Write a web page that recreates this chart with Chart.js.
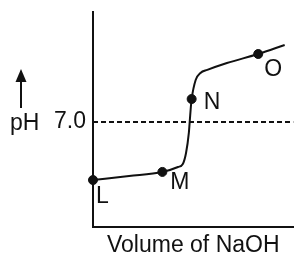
<!DOCTYPE html>
<html>
<head>
<meta charset="utf-8">
<script src="https://cdn.jsdelivr.net/npm/chart.js@4/dist/chart.umd.min.js"></script>
<style>
  html, body { margin: 0; padding: 0; background: #fff; }
  #wrap { width: 299px; height: 255px; }
</style>
</head>
<body>
<div id="wrap"><canvas id="chart"></canvas></div>
<script>
// titration curve (volume in arbitrary units)
const volume = [0, 9, 17.3, 21.2, 22.4, 23.2, 23.9, 24.15, 24.4, 24.6, 25.6, 26.8, 28.5, 33.4, 41.2, 47.8];
const ph = [3.13, 3.4, 3.67, 4.0, 4.2, 4.93, 6.27, 7.13, 8.0, 8.53, 9.8, 10.27, 10.47, 10.93, 11.53, 12.13];
const markedIdx = [0, 2, 9, 14];
const markedNames = ["L", "M", "N", "O"];
const neutralPH = 7.0;
const yTickLabels = ["7.0"];
const xTitle = "Volume of NaOH";
const yTitle = "pH";

const FONT = "'Liberation Sans', Arial, sans-serif";
const INK = "#111";
const SIZE = 23;

Chart.defaults.font.family = FONT;
Chart.defaults.color = INK;

// name offsets from each marked point (dx, baseline dy)
const nameOffsets = [[3, 23], [8, 17], [12, 10], [6, 22]];

const labelPlugin = {
  id: "labels",
  afterDatasetsDraw(chart) {
    const ctx = chart.ctx;
    const meta = chart.getDatasetMeta(0);
    const yScale = chart.scales.y;
    ctx.save();
    ctx.fillStyle = INK;
    ctx.font = SIZE + "px " + FONT;
    ctx.textAlign = "left";
    ctx.textBaseline = "alphabetic";
    markedIdx.forEach((idx, i) => {
      const pt = meta.data[idx];
      const [dx, dy] = nameOffsets[i];
      ctx.fillText(markedNames[i], pt.x + dx, pt.y + dy);
    });

    // pH label and arrow
    const y7 = yScale.getPixelForValue(neutralPH);
    ctx.fillText(yTitle, 10, y7 + 8);
    ctx.strokeStyle = INK;
    ctx.lineWidth = 2;
    ctx.beginPath();
    ctx.moveTo(21, 108);
    ctx.lineTo(21, 80);
    ctx.stroke();
    ctx.beginPath();
    ctx.moveTo(21, 69);
    ctx.lineTo(15.5, 82);
    ctx.lineTo(26.5, 82);
    ctx.closePath();
    ctx.fill();
    ctx.restore();
  },
};

const chart = new Chart(document.getElementById("chart").getContext("2d"), {
  type: "line",
  data: {
    datasets: [
      {
        data: volume.map((v, i) => ({ x: v, y: ph[i] })),
        borderColor: INK,
        borderWidth: 2,
        cubicInterpolationMode: "monotone",
        pointRadius: volume.map((_, i) => (markedIdx.includes(i) ? 4.5 : 0)),
        pointBackgroundColor: INK,
        pointBorderColor: INK,
        pointBorderWidth: 1,
        clip: false,
      },
      {
        data: [{ x: 0, y: neutralPH }, { x: 50, y: neutralPH }],
        borderColor: INK,
        borderWidth: 2,
        borderDash: [5, 3],
        pointRadius: 0,
      },
    ],
  },
  options: {
    responsive: true,
    maintainAspectRatio: false,
    animation: false,
    layout: { padding: { left: 0, right: 1, top: 12, bottom: 0 } },
    plugins: { legend: { display: false }, tooltip: { enabled: false } },
    scales: {
      x: {
        type: "linear",
        min: 0,
        max: 50,
        grid: { display: false, drawTicks: false },
        border: { display: true, color: INK, width: 2 },
        ticks: { display: false },
        title: {
          display: true,
          text: xTitle,
          color: INK,
          padding: 0,
          font: { size: SIZE, lineHeight: "18px" },
        },
        afterFit: (s) => {
          s.height = 28;
          s.paddingLeft = 0;
          s.paddingRight = 0;
        },
      },
      y: {
        type: "linear",
        min: 0,
        max: 14.33,
        grid: { display: false, drawTicks: false },
        border: { display: true, color: INK, width: 2 },
        afterBuildTicks: (s) => { s.ticks = [{ value: neutralPH }]; },
        ticks: {
          padding: 7,
          color: INK,
          font: { size: SIZE },
          callback: () => yTickLabels[0],
        },
        afterFit: (s) => {
          s.width = 93;
          s.paddingTop = 0;
          s.paddingBottom = 0;
        },
      },
    },
  },
  plugins: [labelPlugin],
});
</script>
</body>
</html>
